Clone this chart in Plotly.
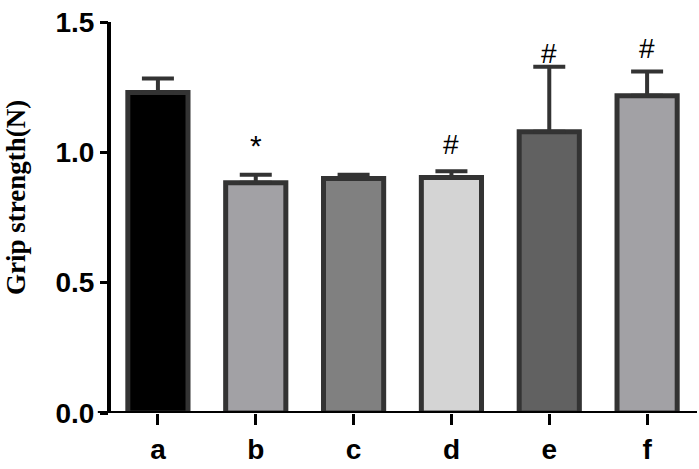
import plotly.graph_objects as go

# values
groups = ["a", "b", "c", "d", "e", "f"]
grip = [1.230, 0.883, 0.900, 0.903, 1.079, 1.217]
grip_err = [0.053, 0.031, 0.014, 0.024, 0.249, 0.093]
bar_colors = ["#000000", "#a2a1a5", "#808080", "#d4d4d4", "#616161", "#a2a1a5"]
sig_marks = ["", "*", "", "#", "#", "#"]
sig_y = [0, 1.025, 0, 1.03, 1.38, 1.40]

TICK_FONT = dict(family="Liberation Sans, Arial, sans-serif", size=28, color="black",
                 weight="bold")
OUTLINE = "#333333"

fig = go.Figure()
fig.add_trace(go.Bar(
    x=groups,
    y=grip,
    width=0.615,
    marker=dict(color=bar_colors, line=dict(color=OUTLINE, width=5)),
    error_y=dict(type="data", symmetric=False, array=grip_err,
                 arrayminus=[0] * len(grip_err),
                 color=OUTLINE, thickness=4, width=16),
    showlegend=False,
))

# significance marks above the bars
for g, m, yy in zip(groups, sig_marks, sig_y):
    if m:
        fig.add_annotation(x=g, y=yy, text=m, showarrow=False,
                           yanchor="middle",
                           font=dict(family="Liberation Sans, Arial, sans-serif",
                                     size=30 if m == "*" else 28, color="black"))

# y title as rotated annotation
fig.add_annotation(xref="paper", yref="paper", x=-0.158, y=0.55,
                   text="<b>Grip strength(N)</b>", textangle=-90, showarrow=False,
                   xanchor="center", yanchor="middle",
                   font=dict(family="Liberation Serif, Times New Roman, serif",
                             size=27, color="black"))

# axis lines, GraphPad style (x axis runs a little past the y axis)
fig.add_shape(type="line", xref="paper", yref="y", x0=-0.019, x1=1.0, y0=0, y1=0,
              line=dict(color="black", width=4), layer="above")
fig.add_shape(type="line", xref="paper", yref="y", x0=0, x1=0, y0=0, y1=1.5,
              line=dict(color="black", width=4), layer="above")

fig.update_layout(
    width=699, height=469,
    margin=dict(l=109, r=2, t=22, b=56),
    plot_bgcolor="white", paper_bgcolor="white",
)
fig.update_xaxes(
    range=[-0.5, 5.51], showline=False, showgrid=False, zeroline=False,
    ticks="outside", ticklen=11, tickwidth=3, tickcolor="black",
    tickfont=TICK_FONT,
)
fig.update_yaxes(
    range=[0, 1.5], tickvals=[0, 0.5, 1.0, 1.5], ticktext=["0.0", "0.5", "1.0", "1.5"],
    showline=False, showgrid=False, zeroline=False,
    ticks="outside", ticklen=8, tickwidth=3, tickcolor="black",
    tickfont=TICK_FONT, ticklabeloverflow="allow",
)

# drop the default 8px body margin so the figure fills the window
fig.write_html("out.html", config={"displayModeBar": False},
               post_script="document.body.style.margin = '0';")
